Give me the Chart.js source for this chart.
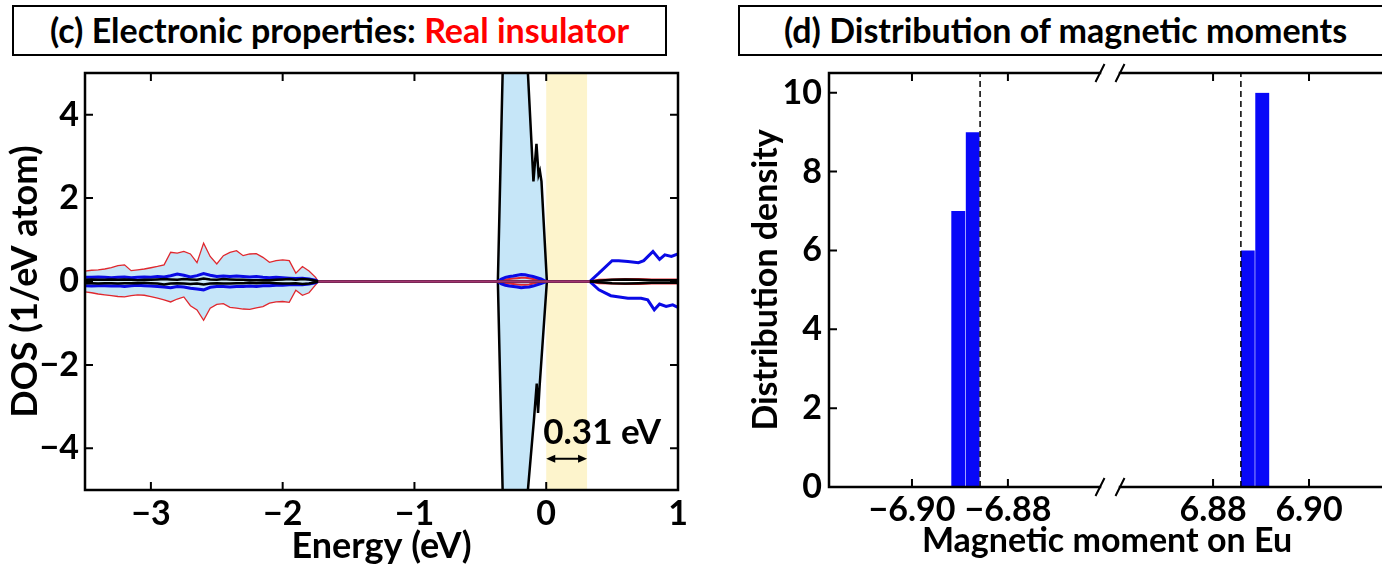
<!DOCTYPE html>
<html>
<head>
<meta charset="utf-8">
<script src="https://cdn.jsdelivr.net/npm/chart.js@4.4.1/dist/chart.umd.min.js"></script>
<style>
  html, body { margin: 0; padding: 0; background: #fff; overflow: hidden; }
  #fig { position: relative; width: 1382px; height: 573px; overflow: hidden; background: #fff;
         font-family: Lato, sans-serif; font-weight: bold; color: #000; }
  #fig canvas { position: absolute; top: 0; }
  .tbox { position: absolute; top: 5px; width: 655px; height: 51px; box-sizing: border-box;
          border: 2.5px solid #000; font-size: 34px; line-height: 45px; text-align: center;
          background: #fff; white-space: nowrap; }
  #xlabD { position: absolute; left: 857px; width: 500px; top: 519px; text-align: center;
           font-size: 34px; line-height: 40px; white-space: nowrap; }
</style>
</head>
<body>
<div id="fig">
  <canvas id="dos" width="700" height="573" style="left:0px;width:700px;height:573px"></canvas>
  <canvas id="histNeg" width="410" height="573" style="left:700px;width:410px;height:573px"></canvas>
  <canvas id="histPos" width="290" height="573" style="left:1110px;width:290px;height:573px"></canvas>
  <div class="tbox" style="left:12px">(c) Electronic properties: <span style="color:#f00">Real insulator</span></div>
  <div class="tbox" style="left:738px">(d) Distribution of magnetic moments</div>
  <div id="xlabD">Magnetic moment on Eu</div>
</div>
<script>
// ---------- (c) DOS, spin up > 0, spin down < 0 ----------
const energyRange = [-3.5, 1];
const dosRange = [-5, 5];
const energyTicks = [-3, -2, -1, 0, 1];
const dosTicks = [-4, -2, 0, 2, 4];
const gapEdges = [0, 0.31];
const gapLabel = '0.31 eV';

// valence tail (-3.5 .. -1.73 eV)
const eTail = [-3.50, -3.45, -3.40, -3.35, -3.30, -3.25, -3.20, -3.15, -3.10, -3.05, -3.00, -2.95, -2.90,
  -2.85, -2.80, -2.75, -2.70, -2.65, -2.60, -2.55, -2.50, -2.45, -2.40, -2.35, -2.30, -2.25, -2.20, -2.15,
  -2.10, -2.05, -2.00, -1.95, -1.90, -1.85, -1.80, -1.75, -1.73];
const totTailUp = [0.25, 0.27, 0.28, 0.30, 0.33, 0.38, 0.40, 0.26, 0.28, 0.30, 0.33, 0.36, 0.40,
  0.70, 0.68, 0.72, 0.66, 0.45, 0.92, 0.60, 0.42, 0.62, 0.70, 0.74, 0.62, 0.66, 0.67, 0.58,
  0.46, 0.50, 0.52, 0.50, 0.20, 0.36, 0.25, 0.10, 0];
const totTailDn = [-0.25, -0.27, -0.30, -0.32, -0.34, -0.36, -0.37, -0.34, -0.32, -0.33, -0.36, -0.40, -0.44,
  -0.49, -0.42, -0.37, -0.58, -0.68, -0.93, -0.64, -0.55, -0.53, -0.62, -0.64, -0.66, -0.67, -0.63, -0.60,
  -0.52, -0.49, -0.48, -0.50, -0.21, -0.33, -0.27, -0.08, 0];
const blueTailUp = [0.10, 0.10, 0.11, 0.10, 0.09, 0.10, 0.11, 0.09, 0.10, 0.11, 0.10, 0.12, 0.11,
  0.14, 0.18, 0.15, 0.11, 0.14, 0.19, 0.15, 0.12, 0.13, 0.12, 0.13, 0.12, 0.11, 0.12, 0.10,
  0.09, 0.10, 0.09, 0.08, 0.07, 0.08, 0.06, 0.03, 0];
const blueTailDn = [-0.10, -0.11, -0.10, -0.10, -0.11, -0.10, -0.12, -0.10, -0.09, -0.10, -0.11, -0.12, -0.13,
  -0.15, -0.12, -0.13, -0.16, -0.18, -0.20, -0.14, -0.12, -0.12, -0.13, -0.12, -0.12, -0.11, -0.12, -0.10,
  -0.10, -0.09, -0.09, -0.08, -0.07, -0.08, -0.06, -0.03, 0];
const blackTailUp = [0.04, 0.05, 0.04, 0.04, 0.05, 0.04, 0.05, 0.04, 0.03, 0.04, 0.04, 0.05, 0.06,
  0.05, 0.04, 0.06, 0.05, 0.04, 0.07, 0.05, 0.04, 0.06, 0.05, 0.04, 0.04, 0.03, 0.03, 0.03,
  0.03, 0.04, 0.05, 0.06, 0.04, 0.06, 0.05, 0.02, 0];
const blackTailDn = [-0.04, -0.04, -0.05, -0.04, -0.04, -0.05, -0.04, -0.04, -0.04, -0.03, -0.04, -0.05, -0.07,
  -0.05, -0.04, -0.05, -0.06, -0.05, -0.07, -0.05, -0.04, -0.05, -0.05, -0.04, -0.04, -0.03, -0.04, -0.03,
  -0.03, -0.04, -0.05, -0.05, -0.04, -0.06, -0.05, -0.02, 0];

// big peak just below the Fermi level
const ePeakUp = [-0.367, -0.33, -0.30, -0.17, -0.139, -0.097, -0.074, -0.058, -0.048, -0.036, 0.005];
const peakUp = [0, 5.1, 9, 9, 5.0, 2.4, 3.3, 2.55, 2.65, 2.4, 0];
const ePeakDn = [-0.367, -0.33, -0.30, -0.17, -0.139, -0.094, -0.072, -0.062, -0.050, 0.005];
const peakDn = [0, -5.1, -9, -9, -5.0, -3.35, -2.45, -3.15, -2.5, 0];

// small blob under the peak
const eBlob = [-0.367, -0.34, -0.31, -0.28, -0.25, -0.22, -0.19, -0.16, -0.13, -0.10, -0.07, -0.04, -0.015, 0.0];
const blueBlobUp = [0, 0.06, 0.10, 0.12, 0.13, 0.15, 0.17, 0.16, 0.14, 0.12, 0.09, 0.06, 0.02, 0];
const blueBlobDn = [0, -0.06, -0.09, -0.11, -0.12, -0.13, -0.15, -0.14, -0.13, -0.11, -0.08, -0.05, -0.02, 0];
const redBlobUp = [0, 0.03, 0.05, 0.06, 0.07, 0.08, 0.09, 0.09, 0.08, 0.06, 0.04, 0.02, 0.01, 0];
const redBlobDn = [0, -0.03, -0.04, -0.05, -0.06, -0.07, -0.08, -0.08, -0.07, -0.05, -0.03, -0.02, -0.01, 0];

// conduction band
const eCondUp = [0.33, 0.40, 0.50, 0.55, 0.62, 0.70, 0.74, 0.81, 0.86, 0.90, 0.95, 1.0];
const blueCondUp = [0, 0.20, 0.50, 0.50, 0.48, 0.45, 0.50, 0.72, 0.53, 0.64, 0.60, 0.66];
const eCondDn = [0.33, 0.40, 0.49, 0.62, 0.72, 0.77, 0.82, 0.86, 0.91, 0.96, 1.0];
const blueCondDn = [0, -0.20, -0.34, -0.40, -0.40, -0.44, -0.68, -0.54, -0.60, -0.56, -0.62];
const eCondSmall = [0.33, 0.40, 0.50, 0.60, 0.70, 0.80, 0.90, 1.0];
const redCondUp = [0, 0.04, 0.05, 0.06, 0.06, 0.05, 0.05, 0.05];
const redCondDn = [0, -0.04, -0.05, -0.06, -0.06, -0.05, -0.05, -0.05];
const blackCondUp = [0, 0.02, 0.04, 0.05, 0.04, 0.03, 0.03, 0.03];
const blackCondDn = [0, -0.02, -0.04, -0.05, -0.04, -0.03, -0.03, -0.03];

const zeroLineE = [-1.73, 0.33];

// ---------- (d) histogram of Eu moments (broken x axis) ----------
const momentAxisNeg = [-6.9173, -6.8608];
const momentAxisPos = [6.8606, 6.9173];
const momentTicksNeg = [-6.90, -6.88];
const momentTicksPos = [6.88, 6.90];
const countRange = [0, 10.5];
const countTicks = [0, 2, 4, 6, 8, 10];
const momentNeg = [-6.8903, -6.8873];
const countNeg = [7, 9];
const momentPos = [6.8873, 6.8903];
const countPos = [6, 10];
const meanNeg = -6.8858;
const meanPos = 6.8858;

// ---------- helpers ----------
Chart.defaults.font.family = 'Lato';
Chart.defaults.font.weight = 'bold';
Chart.defaults.font.size = 34;
Chart.defaults.color = '#000';

const RED = '#e0282e', BLUE = '#0a0ae6', FILL = '#c6e6f8', ZERO = '#a2356f', BAR = '#0808f8';

const pts = (xs, ys) => xs.map((x, i) => ({ x, y: ys[i] }));
const fmt = digits => v => (v < 0 ? '\u2212' : '') + Math.abs(v).toFixed(digits);
const setTicks = list => scale => { scale.ticks = list.map(v => ({ value: v })); };

// spines with inward ticks, plus optional axis-break slashes
const framePlugin = {
  id: 'frame',
  afterDraw(chart, args, opts) {
    const { ctx, chartArea: a, scales } = chart;
    const sides = opts.sides || [];
    ctx.save();
    ctx.strokeStyle = '#000';
    ctx.lineWidth = 2.5;
    ctx.lineCap = 'square';
    ctx.beginPath();
    if (sides.includes('left')) { ctx.moveTo(a.left, a.top); ctx.lineTo(a.left, a.bottom); }
    if (sides.includes('right')) { ctx.moveTo(a.right, a.top); ctx.lineTo(a.right, a.bottom); }
    if (sides.includes('top')) { ctx.moveTo(a.left, a.top); ctx.lineTo(a.right, a.top); }
    if (sides.includes('bottom')) { ctx.moveTo(a.left, a.bottom); ctx.lineTo(a.right, a.bottom); }
    ctx.stroke();

    const L = 8;
    ctx.lineWidth = 2;
    ctx.lineCap = 'butt';
    ctx.beginPath();
    scales.x.ticks.forEach(t => {
      const p = scales.x.getPixelForValue(t.value);
      if (sides.includes('bottom')) { ctx.moveTo(p, a.bottom); ctx.lineTo(p, a.bottom - L); }
      if (sides.includes('top')) { ctx.moveTo(p, a.top); ctx.lineTo(p, a.top + L); }
    });
    scales.y.ticks.forEach(t => {
      const p = scales.y.getPixelForValue(t.value);
      if (sides.includes('left')) { ctx.moveTo(a.left, p); ctx.lineTo(a.left + L, p); }
      if (sides.includes('right')) { ctx.moveTo(a.right, p); ctx.lineTo(a.right - L, p); }
    });
    ctx.stroke();

    ctx.beginPath();
    (opts.breaks || []).forEach(side => {
      const x = side === 'right' ? a.right : a.left;
      [a.top, a.bottom].forEach(y => { ctx.moveTo(x - 4.5, y + 9); ctx.lineTo(x + 4.5, y - 9); });
    });
    ctx.stroke();
    ctx.restore();
  }
};

// band gap shading, arrow and label
const gapPlugin = {
  id: 'gap',
  beforeDatasetsDraw(chart) {
    const { ctx, chartArea: a, scales: { x } } = chart;
    const x0 = x.getPixelForValue(gapEdges[0]), x1 = x.getPixelForValue(gapEdges[1]);
    ctx.save();
    ctx.fillStyle = '#fdf4cc';
    ctx.fillRect(x0, a.top, x1 - x0, a.bottom - a.top);
    ctx.restore();
  },
  afterDatasetsDraw(chart) {
    const { ctx, scales: { x, y } } = chart;
    const x0 = x.getPixelForValue(gapEdges[0]), x1 = x.getPixelForValue(gapEdges[1]);
    const ya = y.getPixelForValue(-4.25);
    ctx.save();
    ctx.strokeStyle = '#000';
    ctx.fillStyle = '#000';
    ctx.lineWidth = 2;
    ctx.beginPath();
    ctx.moveTo(x0 + 4, ya); ctx.lineTo(x1 - 4, ya);
    ctx.stroke();
    [[x0, 1], [x1, -1]].forEach(([px, d]) => {
      ctx.beginPath();
      ctx.moveTo(px, ya);
      ctx.lineTo(px + 9 * d, ya - 4);
      ctx.lineTo(px + 9 * d, ya + 4);
      ctx.closePath();
      ctx.fill();
    });
    ctx.font = 'bold 35px Lato';
    ctx.textAlign = 'left';
    ctx.textBaseline = 'middle';
    ctx.fillText(gapLabel, x0 - 3, y.getPixelForValue(-3.62));
    ctx.restore();
  }
};

const totSeg = {
  borderColor: c => c.p1.parsed.x <= -1.7 ? RED
    : (c.p0.parsed.x >= -0.4 && c.p1.parsed.x <= 0.05 ? '#000' : 'rgba(0,0,0,0)'),
  borderWidth: c => c.p1.parsed.x <= -1.7 ? 1.3 : 2.5
};

const line = (data, color, width, order, extra) =>
  Object.assign({ data, borderColor: color, borderWidth: width, pointRadius: 0, tension: 0, order }, extra || {});

new Chart(document.getElementById('dos'), {
  type: 'line',
  data: {
    datasets: [
      line(pts(zeroLineE, [0, 0]), ZERO, 2.5, 0),
      line(pts(eTail, blackTailUp).concat(pts(eCondSmall, blackCondUp)), '#000', 2.5, 1),
      line(pts(eTail, blackTailDn).concat(pts(eCondSmall, blackCondDn)), '#000', 2.5, 1),
      line(pts(eTail, blueTailUp).concat(pts(eBlob, blueBlobUp), pts(eCondUp, blueCondUp)), BLUE, 3, 2),
      line(pts(eTail, blueTailDn).concat(pts(eBlob, blueBlobDn), pts(eCondDn, blueCondDn)), BLUE, 3, 2),
      line(pts(eBlob, redBlobUp).concat(pts(eCondSmall, redCondUp)), RED, 2, 3),
      line(pts(eBlob, redBlobDn).concat(pts(eCondSmall, redCondDn)), RED, 2, 3),
      line(pts(eTail, totTailUp).concat(pts(ePeakUp, peakUp)), RED, 1.3, 4,
        { fill: 'origin', backgroundColor: FILL, segment: totSeg }),
      line(pts(eTail, totTailDn).concat(pts(ePeakDn, peakDn)), RED, 1.3, 4,
        { fill: 'origin', backgroundColor: FILL, segment: totSeg })
    ]
  },
  options: {
    responsive: false,
    animation: false,
    events: [],
    layout: { padding: { left: 0, top: 73, right: 22, bottom: 0 } },
    plugins: {
      legend: { display: false },
      tooltip: { enabled: false },
      frame: { sides: ['left', 'right', 'top', 'bottom'] }
    },
    scales: {
      x: {
        type: 'linear', min: energyRange[0], max: energyRange[1],
        afterBuildTicks: setTicks(energyTicks),
        afterFit: s => { s.height = 83; },
        grid: { display: false, drawTicks: false },
        border: { display: false },
        ticks: { padding: 4, maxRotation: 0, autoSkip: false, callback: fmt(0) },
        title: { display: true, text: 'Energy (eV)', font: { size: 36 }, padding: { top: 0, bottom: 5 } }
      },
      y: {
        type: 'linear', min: dosRange[0], max: dosRange[1],
        afterBuildTicks: setTicks(dosTicks),
        afterFit: s => { s.width = 85; },
        grid: { display: false, drawTicks: false },
        border: { display: false },
        ticks: { padding: 6, callback: fmt(0) },
        title: { display: true, text: 'DOS (1/eV atom)', font: { size: 36 }, padding: { top: 4, bottom: 0 } }
      }
    }
  },
  plugins: [gapPlugin, framePlugin]
});

function histChart(id, axisRange, ticks, moments, counts, mean, withY, pad, sides, breakSide) {
  return new Chart(document.getElementById(id), {
    type: 'bar',
    data: {
      datasets: [
        line(pts([mean, mean], countRange), '#000', 1.5, 0, { type: 'line', borderDash: [6, 4] }),
        {
          type: 'bar', data: pts(moments, counts), backgroundColor: BAR,
          borderColor: 'rgba(205,205,255,1)', borderWidth: { right: 1 }, borderSkipped: 'start',
          barPercentage: 1, categoryPercentage: 1, order: 1
        }
      ]
    },
    options: {
      responsive: false,
      animation: false,
      events: [],
      layout: { padding: pad },
      plugins: {
        legend: { display: false },
        tooltip: { enabled: false },
        frame: { sides, breaks: [breakSide] }
      },
      scales: {
        x: {
          type: 'linear', min: axisRange[0], max: axisRange[1], offset: false,
          afterBuildTicks: setTicks(ticks),
          afterFit: s => { s.height = 86; },
          grid: { display: false, drawTicks: false, offset: false },
          border: { display: false },
          ticks: { padding: 3, maxRotation: 0, autoSkip: false, callback: fmt(2) }
        },
        y: {
          type: 'linear', min: countRange[0], max: countRange[1], display: withY,
          afterBuildTicks: setTicks(countTicks),
          afterFit: s => { if (withY) s.width = 129; },
          grid: { display: false, drawTicks: false },
          border: { display: false },
          ticks: { padding: 7 },
          title: { display: true, text: 'Distribution density', font: { size: 34 }, padding: { top: 46, bottom: 0 } }
        }
      }
    },
    plugins: [framePlugin]
  });
}

histChart('histNeg', momentAxisNeg, momentTicksNeg, momentNeg, countNeg, meanNeg, true,
  { left: 0, top: 73, right: 10, bottom: 0 }, ['left', 'top', 'bottom'], 'right');
histChart('histPos', momentAxisPos, momentTicksPos, momentPos, countPos, meanPos, false,
  { left: 10, top: 73, right: 8, bottom: 0 }, ['right', 'top', 'bottom'], 'left');
</script>
</body>
</html>
